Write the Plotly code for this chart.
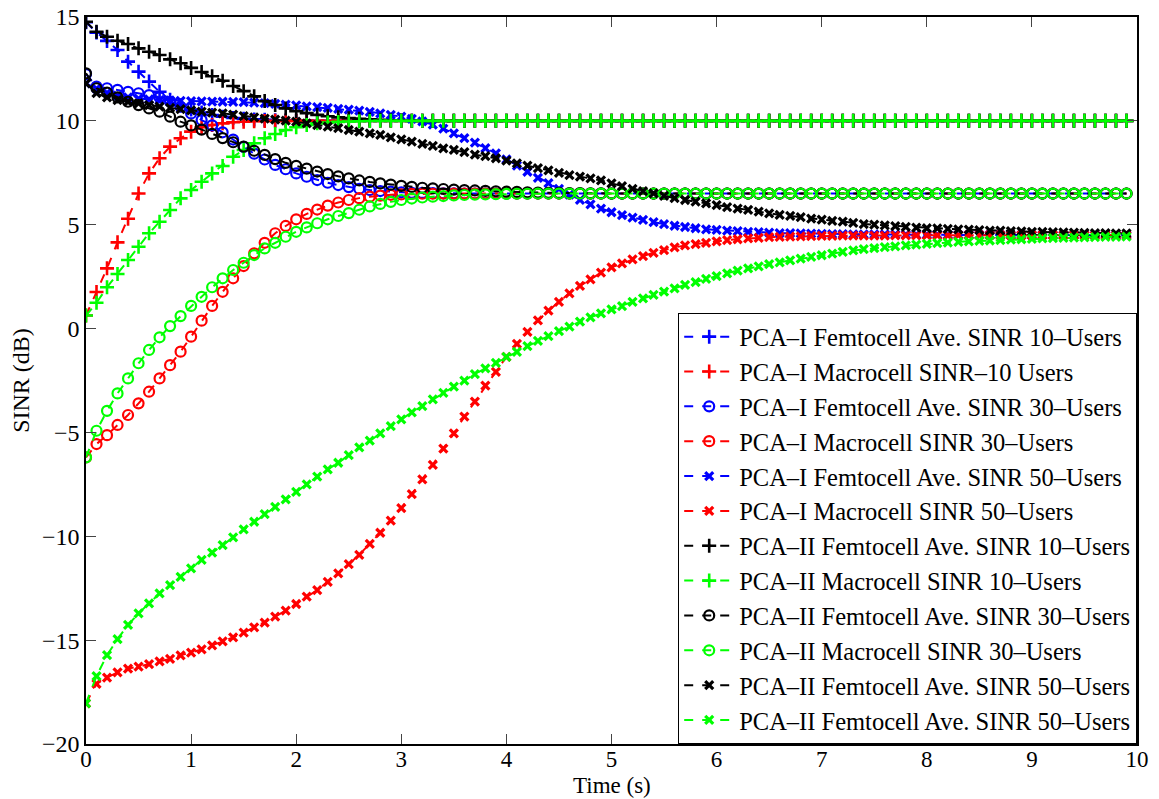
import numpy as np
import plotly.graph_objects as go

# time grid (s)
time_s = np.round(np.arange(100) * 0.1, 1)

pca1_femto_10 = [
    14.75, 14.25, 13.85, 13.41, 12.85, 12.37, 11.89, 11.40, 11.02, 10.75,
    10.55, 10.40, 10.28, 10.20, 10.14, 10.10, 10.07, 10.05, 10.03, 10.02,
    10.01, 10.00, 10.00, 10.00, 10.00, 10.00, 10.00, 10.00, 10.00, 10.00,
    10.00, 10.00, 10.00, 10.00, 10.00, 10.00, 10.00, 10.00, 10.00, 10.00,
    10.00, 10.00, 10.00, 10.00, 10.00, 10.00, 10.00, 10.00, 10.00, 10.00,
    10.00, 10.00, 10.00, 10.00, 10.00, 10.00, 10.00, 10.00, 10.00, 10.00,
    10.00, 10.00, 10.00, 10.00, 10.00, 10.00, 10.00, 10.00, 10.00, 10.00,
    10.00, 10.00, 10.00, 10.00, 10.00, 10.00, 10.00, 10.00, 10.00, 10.00,
    10.00, 10.00, 10.00, 10.00, 10.00, 10.00, 10.00, 10.00, 10.00, 10.00,
    10.00, 10.00, 10.00, 10.00, 10.00, 10.00, 10.00, 10.00, 10.00, 10.00,
]
pca1_macro_10 = [
    0.63, 1.76, 2.90, 4.15, 5.29, 6.50, 7.47, 8.20, 8.76, 9.16,
    9.48, 9.69, 9.80, 9.88, 9.93, 9.96, 9.98, 9.99, 10.00, 10.00,
    10.00, 10.00, 10.00, 10.00, 10.00, 10.00, 10.00, 10.00, 10.00, 10.00,
    10.00, 10.00, 10.00, 10.00, 10.00, 10.00, 10.00, 10.00, 10.00, 10.00,
    10.00, 10.00, 10.00, 10.00, 10.00, 10.00, 10.00, 10.00, 10.00, 10.00,
    10.00, 10.00, 10.00, 10.00, 10.00, 10.00, 10.00, 10.00, 10.00, 10.00,
    10.00, 10.00, 10.00, 10.00, 10.00, 10.00, 10.00, 10.00, 10.00, 10.00,
    10.00, 10.00, 10.00, 10.00, 10.00, 10.00, 10.00, 10.00, 10.00, 10.00,
    10.00, 10.00, 10.00, 10.00, 10.00, 10.00, 10.00, 10.00, 10.00, 10.00,
    10.00, 10.00, 10.00, 10.00, 10.00, 10.00, 10.00, 10.00, 10.00, 10.00,
]
pca1_femto_30 = [
    12.25, 11.65, 11.57, 11.49, 11.40, 11.33, 11.24, 11.13, 10.92, 10.68,
    10.36, 10.04, 9.78, 9.45, 9.10, 8.75, 8.42, 8.14, 7.88, 7.67,
    7.47, 7.31, 7.15, 7.02, 6.91, 6.81, 6.73, 6.67, 6.62, 6.59,
    6.56, 6.54, 6.53, 6.52, 6.51, 6.51, 6.50, 6.50, 6.50, 6.50,
    6.50, 6.50, 6.50, 6.50, 6.50, 6.50, 6.50, 6.50, 6.50, 6.50,
    6.50, 6.50, 6.50, 6.50, 6.50, 6.50, 6.50, 6.50, 6.50, 6.50,
    6.50, 6.50, 6.50, 6.50, 6.50, 6.50, 6.50, 6.50, 6.50, 6.50,
    6.50, 6.50, 6.50, 6.50, 6.50, 6.50, 6.50, 6.50, 6.50, 6.50,
    6.50, 6.50, 6.50, 6.50, 6.50, 6.50, 6.50, 6.50, 6.50, 6.50,
    6.50, 6.50, 6.50, 6.50, 6.50, 6.50, 6.50, 6.50, 6.50, 6.50,
]
pca1_macro_30 = [
    -6.20, -5.56, -5.13, -4.64, -4.16, -3.60, -3.04, -2.40, -1.76, -1.11,
    -0.39, 0.38, 1.09, 1.77, 2.42, 3.01, 3.62, 4.13, 4.59, 4.94,
    5.26, 5.52, 5.73, 5.92, 6.07, 6.19, 6.28, 6.35, 6.40, 6.44,
    6.46, 6.48, 6.49, 6.49, 6.50, 6.50, 6.50, 6.50, 6.50, 6.50,
    6.50, 6.50, 6.50, 6.50, 6.50, 6.50, 6.50, 6.50, 6.50, 6.50,
    6.50, 6.50, 6.50, 6.50, 6.50, 6.50, 6.50, 6.50, 6.50, 6.50,
    6.50, 6.50, 6.50, 6.50, 6.50, 6.50, 6.50, 6.50, 6.50, 6.50,
    6.50, 6.50, 6.50, 6.50, 6.50, 6.50, 6.50, 6.50, 6.50, 6.50,
    6.50, 6.50, 6.50, 6.50, 6.50, 6.50, 6.50, 6.50, 6.50, 6.50,
    6.50, 6.50, 6.50, 6.50, 6.50, 6.50, 6.50, 6.50, 6.50, 6.50,
]
pca1_femto_50 = [
    11.80, 11.55, 11.35, 11.22, 11.13, 11.07, 11.03, 11.00, 10.98, 10.96,
    10.95, 10.94, 10.93, 10.92, 10.91, 10.90, 10.88, 10.85, 10.82, 10.78,
    10.74, 10.70, 10.66, 10.62, 10.58, 10.54, 10.49, 10.43, 10.36, 10.29,
    10.20, 10.10, 9.97, 9.82, 9.63, 9.40, 9.17, 8.95, 8.69, 8.44,
    8.15, 7.85, 7.55, 7.25, 7.00, 6.72, 6.45, 6.20, 5.98, 5.78,
    5.60, 5.46, 5.34, 5.23, 5.12, 5.03, 4.95, 4.89, 4.83, 4.78,
    4.75, 4.72, 4.69, 4.66, 4.64, 4.62, 4.60, 4.59, 4.58, 4.57,
    4.56, 4.55, 4.55, 4.54, 4.54, 4.53, 4.53, 4.53, 4.52, 4.52,
    4.52, 4.52, 4.51, 4.51, 4.51, 4.51, 4.51, 4.51, 4.50, 4.50,
    4.50, 4.50, 4.50, 4.50, 4.50, 4.50, 4.50, 4.50, 4.50, 4.50,
]
pca1_macro_50 = [
    -18.04, -17.10, -16.80, -16.55, -16.37, -16.28, -16.15, -16.02, -15.90, -15.73,
    -15.60, -15.45, -15.25, -15.06, -14.87, -14.64, -14.38, -14.16, -13.87, -13.58,
    -13.26, -12.91, -12.59, -12.20, -11.79, -11.34, -10.89, -10.37, -9.83, -9.25,
    -8.64, -7.97, -7.26, -6.56, -5.78, -5.05, -4.24, -3.52, -2.75, -2.08,
    -1.36, -0.74, -0.16, 0.39, 0.86, 1.29, 1.70, 2.05, 2.37, 2.69,
    2.95, 3.14, 3.33, 3.49, 3.65, 3.78, 3.91, 4.00, 4.07, 4.13,
    4.20, 4.26, 4.30, 4.34, 4.37, 4.40, 4.42, 4.43, 4.44, 4.45,
    4.46, 4.46, 4.47, 4.47, 4.48, 4.48, 4.48, 4.49, 4.49, 4.49,
    4.49, 4.49, 4.49, 4.50, 4.50, 4.50, 4.50, 4.50, 4.50, 4.50,
    4.50, 4.50, 4.50, 4.50, 4.50, 4.50, 4.50, 4.50, 4.50, 4.50,
]
pca2_femto_10 = [
    14.77, 14.29, 14.05, 13.86, 13.70, 13.49, 13.33, 13.17, 12.96, 12.77,
    12.55, 12.35, 12.15, 11.93, 11.68, 11.43, 11.18, 10.95, 10.76, 10.60,
    10.47, 10.37, 10.29, 10.22, 10.17, 10.13, 10.10, 10.07, 10.05, 10.03,
    10.02, 10.01, 10.00, 10.00, 10.00, 10.00, 10.00, 10.00, 10.00, 10.00,
    10.00, 10.00, 10.00, 10.00, 10.00, 10.00, 10.00, 10.00, 10.00, 10.00,
    10.00, 10.00, 10.00, 10.00, 10.00, 10.00, 10.00, 10.00, 10.00, 10.00,
    10.00, 10.00, 10.00, 10.00, 10.00, 10.00, 10.00, 10.00, 10.00, 10.00,
    10.00, 10.00, 10.00, 10.00, 10.00, 10.00, 10.00, 10.00, 10.00, 10.00,
    10.00, 10.00, 10.00, 10.00, 10.00, 10.00, 10.00, 10.00, 10.00, 10.00,
    10.00, 10.00, 10.00, 10.00, 10.00, 10.00, 10.00, 10.00, 10.00, 10.00,
]
pca2_macro_10 = [
    0.63, 1.24, 1.99, 2.63, 3.30, 3.94, 4.59, 5.14, 5.71, 6.27,
    6.67, 7.07, 7.47, 7.83, 8.27, 8.60, 8.92, 9.16, 9.37, 9.56,
    9.69, 9.80, 9.88, 9.92, 9.95, 9.97, 9.98, 9.99, 10.00, 10.00,
    10.00, 10.00, 10.00, 10.00, 10.00, 10.00, 10.00, 10.00, 10.00, 10.00,
    10.00, 10.00, 10.00, 10.00, 10.00, 10.00, 10.00, 10.00, 10.00, 10.00,
    10.00, 10.00, 10.00, 10.00, 10.00, 10.00, 10.00, 10.00, 10.00, 10.00,
    10.00, 10.00, 10.00, 10.00, 10.00, 10.00, 10.00, 10.00, 10.00, 10.00,
    10.00, 10.00, 10.00, 10.00, 10.00, 10.00, 10.00, 10.00, 10.00, 10.00,
    10.00, 10.00, 10.00, 10.00, 10.00, 10.00, 10.00, 10.00, 10.00, 10.00,
    10.00, 10.00, 10.00, 10.00, 10.00, 10.00, 10.00, 10.00, 10.00, 10.00,
]
pca2_femto_30 = [
    12.29, 11.57, 11.36, 11.13, 10.92, 10.76, 10.60, 10.44, 10.20, 9.96,
    9.78, 9.58, 9.37, 9.17, 8.97, 8.76, 8.56, 8.36, 8.16, 7.98,
    7.83, 7.70, 7.56, 7.44, 7.33, 7.23, 7.13, 7.06, 6.99, 6.93,
    6.87, 6.82, 6.78, 6.75, 6.72, 6.69, 6.67, 6.65, 6.63, 6.61,
    6.59, 6.58, 6.56, 6.55, 6.54, 6.53, 6.52, 6.52, 6.51, 6.51,
    6.50, 6.50, 6.50, 6.50, 6.50, 6.50, 6.50, 6.50, 6.50, 6.50,
    6.50, 6.50, 6.50, 6.50, 6.50, 6.50, 6.50, 6.50, 6.50, 6.50,
    6.50, 6.50, 6.50, 6.50, 6.50, 6.50, 6.50, 6.50, 6.50, 6.50,
    6.50, 6.50, 6.50, 6.50, 6.50, 6.50, 6.50, 6.50, 6.50, 6.50,
    6.50, 6.50, 6.50, 6.50, 6.50, 6.50, 6.50, 6.50, 6.50, 6.50,
]
pca2_macro_30 = [
    -6.20, -4.92, -3.96, -3.12, -2.40, -1.67, -1.03, -0.42, 0.12, 0.60,
    1.09, 1.53, 1.99, 2.42, 2.82, 3.17, 3.54, 3.86, 4.13, 4.42,
    4.66, 4.87, 5.07, 5.26, 5.42, 5.56, 5.72, 5.88, 6.00, 6.10,
    6.19, 6.26, 6.31, 6.35, 6.38, 6.41, 6.43, 6.45, 6.46, 6.47,
    6.48, 6.49, 6.49, 6.50, 6.50, 6.50, 6.50, 6.50, 6.50, 6.50,
    6.50, 6.50, 6.50, 6.50, 6.50, 6.50, 6.50, 6.50, 6.50, 6.50,
    6.50, 6.50, 6.50, 6.50, 6.50, 6.50, 6.50, 6.50, 6.50, 6.50,
    6.50, 6.50, 6.50, 6.50, 6.50, 6.50, 6.50, 6.50, 6.50, 6.50,
    6.50, 6.50, 6.50, 6.50, 6.50, 6.50, 6.50, 6.50, 6.50, 6.50,
    6.50, 6.50, 6.50, 6.50, 6.50, 6.50, 6.50, 6.50, 6.50, 6.50,
]
pca2_femto_50 = [
    11.80, 11.33, 11.13, 11.00, 10.92, 10.84, 10.76, 10.69, 10.62, 10.56,
    10.50, 10.44, 10.40, 10.36, 10.30, 10.23, 10.17, 10.11, 10.06, 10.01,
    9.96, 9.88, 9.80, 9.72, 9.65, 9.56, 9.48, 9.40, 9.32, 9.21,
    9.11, 9.00, 8.89, 8.79, 8.68, 8.60, 8.49, 8.37, 8.30, 8.20,
    8.08, 7.95, 7.84, 7.73, 7.62, 7.50, 7.39, 7.31, 7.23, 7.13,
    6.99, 6.86, 6.73, 6.62, 6.51, 6.39, 6.28, 6.19, 6.11, 6.03,
    5.94, 5.85, 5.78, 5.71, 5.63, 5.55, 5.47, 5.42, 5.37, 5.29,
    5.24, 5.19, 5.15, 5.09, 5.03, 5.00, 4.97, 4.93, 4.90, 4.86,
    4.83, 4.82, 4.80, 4.78, 4.76, 4.74, 4.72, 4.71, 4.69, 4.68,
    4.66, 4.65, 4.64, 4.63, 4.62, 4.61, 4.60, 4.59, 4.58, 4.58,
]
pca2_macro_50 = [
    -18.04, -16.73, -15.72, -14.95, -14.27, -13.71, -13.23, -12.75, -12.35, -11.95,
    -11.54, -11.14, -10.79, -10.42, -10.05, -9.67, -9.30, -8.93, -8.58, -8.22,
    -7.86, -7.50, -7.13, -6.78, -6.46, -6.09, -5.72, -5.40, -5.05, -4.70,
    -4.37, -4.03, -3.73, -3.41, -3.09, -2.80, -2.51, -2.19, -1.92, -1.65,
    -1.36, -1.12, -0.84, -0.59, -0.36, -0.12, 0.09, 0.33, 0.54, 0.73,
    0.92, 1.08, 1.29, 1.45, 1.62, 1.78, 1.94, 2.10, 2.24, 2.39,
    2.53, 2.66, 2.79, 2.90, 3.00, 3.10, 3.19, 3.28, 3.37, 3.45,
    3.53, 3.61, 3.69, 3.76, 3.82, 3.87, 3.92, 3.96, 4.00, 4.04,
    4.08, 4.11, 4.14, 4.17, 4.20, 4.22, 4.24, 4.26, 4.28, 4.30,
    4.32, 4.34, 4.35, 4.37, 4.38, 4.39, 4.40, 4.41, 4.42, 4.43,
]

series_names = [
    "PCA–I Femtocell Ave. SINR 10–Users",
    "PCA–I Macrocell SINR–10 Users",
    "PCA–I Femtocell Ave. SINR 30–Users",
    "PCA–I Macrocell SINR 30–Users",
    "PCA–I Femtocell Ave. SINR 50–Users",
    "PCA–I Macrocell SINR 50–Users",
    "PCA–II Femtocell Ave. SINR 10–Users",
    "PCA–II Macrocell SINR 10–Users",
    "PCA–II Femtocell Ave. SINR 30–Users",
    "PCA–II Macrocell SINR 30–Users",
    "PCA–II Femtocell Ave. SINR 50–Users",
    "PCA–II Femtocell Ave. SINR 50–Users",
]
series_values = [
    pca1_femto_10, pca1_macro_10, pca1_femto_30, pca1_macro_30,
    pca1_femto_50, pca1_macro_50, pca2_femto_10, pca2_macro_10,
    pca2_femto_30, pca2_macro_30, pca2_femto_50, pca2_macro_50,
]
series_colors = ["#0000FF", "#FF0000", "#0000FF", "#FF0000", "#0000FF", "#FF0000",
                 "#000000", "#00FF00", "#000000", "#00FF00", "#000000", "#00FF00"]
series_markers = ["plus", "plus", "o", "o", "x", "x",
                  "plus", "plus", "o", "o", "x", "x"]

marker_style = {
    "plus": dict(symbol="cross-thin", size=10, lw=2.6),
    "o": dict(symbol="circle-open", size=10, lw=2.2),
    "x": dict(symbol="x-thin", size=8, lw=3.2),
}

fig = go.Figure()
for name, vals, col, mk in zip(series_names, series_values, series_colors, series_markers):
    st = marker_style[mk]
    fig.add_trace(go.Scatter(
        x=time_s, y=vals, name=name, mode="lines+markers",
        line=dict(color=col, width=2, dash="dash"),
        marker=dict(symbol=st["symbol"], size=st["size"], color=col,
                    line=dict(color=col, width=st["lw"])),
    ))

serif = "Liberation Serif, Times New Roman, serif"
axis_common = dict(
    showline=True, linecolor="black", linewidth=1.5, mirror="allticks",
    ticks="inside", ticklen=10, tickwidth=1, tickcolor="#444",
    showgrid=False, zeroline=False, automargin=False,
)
fig.update_xaxes(range=[0, 10], dtick=1, tick0=0, ticklabelstandoff=-6,
                 tickfont=dict(family=serif, size=23, color="black"),
                 **axis_common)
fig.update_yaxes(range=[-20, 15], dtick=5, tick0=-20,
                 tickfont=dict(family=serif, size=24, color="black"),
                 title=dict(text="SINR (dB)", font=dict(family=serif, size=24, color="black"), standoff=6),
                 **axis_common)

fig.add_annotation(
    text="Time (s)", xref="paper", yref="paper", x=0.5, y=-55 / 727,
    xanchor="center", yanchor="bottom", showarrow=False,
    font=dict(family=serif, size=23, color="black"), borderpad=0,
)

fig.update_layout(
    width=1159, height=799,
    margin=dict(l=86, r=22, t=17, b=55, pad=0),
    paper_bgcolor="white", plot_bgcolor="white",
    font=dict(family=serif, color="black"),
    legend=dict(x=1, y=0, xanchor="right", yanchor="bottom",
                bgcolor="white", bordercolor="black", borderwidth=1.2,
                font=dict(family=serif, size=24.5, color="black"),
                itemwidth=50, tracegroupgap=0),
    showlegend=True,
)

fig.write_html("out.html")
